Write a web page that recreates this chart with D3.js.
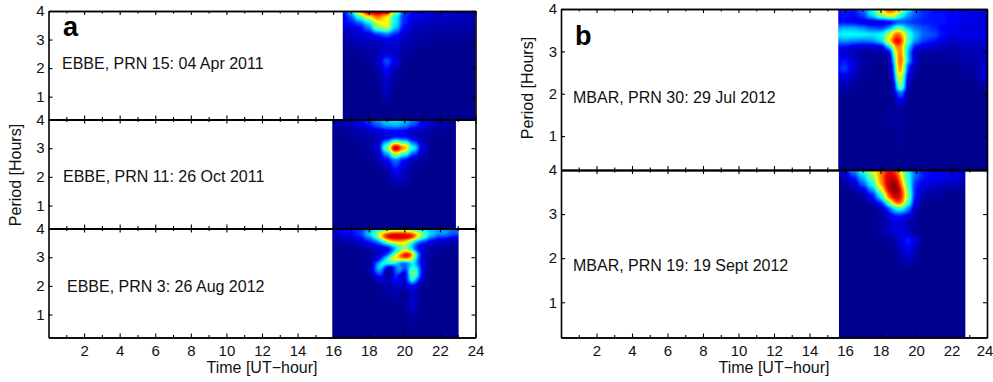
<!DOCTYPE html>
<html>
<head>
<meta charset="utf-8">
<script src="https://cdn.jsdelivr.net/npm/d3@7"></script>
<style>
	html, body { margin: 0; padding: 0; background: #fff; overflow: hidden; }
	text { font-family: "Liberation Sans", Arial, sans-serif; fill: #111; }
	.axis path, .axis line { stroke: #000; }
	.axis path { stroke-width: 1.6; }
	.axis line { stroke-width: 1.1; }
	.axis text { font-size: 15px; font-family: "Liberation Sans", Arial, sans-serif; fill: #111; }
</style>
</head>
<body>
<svg id="chart" width="993" height="382"></svg>
<script>
//---->TICKS<-----//
const hourMajor = [2, 4, 6, 8, 10, 12, 14, 16, 18, 20, 22, 24],
	hourMinor = [1, 3, 5, 7, 9, 11, 13, 15, 17, 19, 21, 23],
	periodTicks = [1, 2, 3, 4];

//---->PANEL a, EBBE PRN 15<-----//
const spanA1 = [16.54, 24];
const hoursA1 = [16.5, 17, 17.5, 18, 18.5, 19, 19.5, 20, 20.5, 21, 22, 23, 24];
const periodsA1 = [4, 3.8, 3.6, 3.4, 3.2, 3, 2.75, 2.5, 2.25, 2, 1.75, 1.5, 1.25, 1, 0.6, 0.2];
const powerA1 = [
	[14, 34, 78, 100, 100, 100, 58, 20, 14, 12, 8, 5, 4],
	[8, 20, 42, 62, 76, 62, 36, 16, 10, 8, 6, 5, 4],
	[14, 14, 22, 36, 60, 64, 38, 16, 8, 6, 5, 4, 3],
	[6, 8, 12, 24, 50, 58, 32, 12, 6, 4, 3, 3, 2],
	[4, 6, 8, 10, 18, 24, 16, 7, 4, 3, 2, 2, 1],
	[2, 4, 6, 6, 6, 10, 8, 5, 3, 2, 1, 1, 1],
	[1, 2, 3, 4, 5, 6, 8, 3, 2, 1, 0, 0, 0],
	[0, 1, 1, 2, 4, 8, 6, 2, 1, 0, 0, 0, 0],
	[0, 0, 0, 1, 5, 20, 10, 1, 0, 0, 0, 0, 0],
	[0, 0, 0, 0, 3, 14, 5, 0, 0, 0, 0, 0, 0],
	[0, 0, 0, 0, 1, 9, 2, 0, 0, 0, 0, 0, 0],
	[0, 0, 0, 0, 1, 7, 1, 0, 0, 0, 0, 0, 0],
	[0, 0, 0, 0, 0, 6, 0, 0, 0, 0, 0, 0, 0],
	[0, 0, 0, 0, 0, 4, 0, 0, 0, 0, 0, 0, 0],
	[0, 0, 0, 0, 0, 0, 0, 0, 0, 0, 0, 0, 0],
	[0, 0, 0, 0, 0, 0, 0, 0, 0, 0, 0, 0, 0]
];

//---->PANEL a, EBBE PRN 11<-----//
const spanA2 = [15.95, 22.9];
const hoursA2 = [16, 16.5, 17, 17.5, 18, 18.5, 19, 19.5, 20, 20.5, 21, 21.5, 22, 23];
const periodsA2 = [4, 3.8, 3.6, 3.4, 3.2, 3, 2.8, 2.6, 2.4, 2.2, 2, 1.8, 1.5, 1, 0.2];
const powerA2 = [
	[4, 5, 8, 12, 20, 28, 34, 36, 34, 24, 14, 8, 5, 2],
	[2, 3, 5, 8, 14, 22, 30, 32, 28, 20, 12, 6, 3, 1],
	[1, 1, 2, 4, 6, 8, 10, 12, 10, 6, 4, 2, 1, 0],
	[0, 0, 1, 2, 3, 4, 8, 12, 10, 6, 3, 1, 0, 0],
	[0, 0, 0, 1, 2, 6, 30, 56, 46, 22, 6, 1, 0, 0],
	[0, 0, 0, 0, 2, 8, 50, 100, 76, 40, 10, 1, 0, 0],
	[0, 0, 0, 0, 1, 5, 26, 58, 42, 20, 4, 0, 0, 0],
	[0, 0, 0, 0, 0, 3, 12, 24, 12, 3, 1, 0, 0, 0],
	[0, 0, 0, 0, 0, 1, 5, 18, 8, 2, 0, 0, 0, 0],
	[0, 0, 0, 0, 0, 0, 2, 12, 5, 1, 0, 0, 0, 0],
	[0, 0, 0, 0, 0, 0, 2, 7, 6, 0, 0, 0, 0, 0],
	[0, 0, 0, 0, 0, 0, 0, 3, 3, 0, 0, 0, 0, 0],
	[0, 0, 0, 0, 0, 0, 0, 0, 0, 0, 0, 0, 0, 0],
	[0, 0, 0, 0, 0, 0, 0, 0, 0, 0, 0, 0, 0, 0],
	[0, 0, 0, 0, 0, 0, 0, 0, 0, 0, 0, 0, 0, 0]
];

//---->PANEL a, EBBE PRN 3<-----//
const spanA3 = [15.95, 23.05];
const hoursA3 = [16, 17, 17.5, 18, 18.25, 18.5, 18.75, 19, 19.25, 19.5, 19.75, 20, 20.25, 20.5, 20.75, 21, 21.5, 22, 23];
const periodsA3 = [4, 3.85, 3.7, 3.55, 3.4, 3.25, 3.1, 2.95, 2.8, 2.65, 2.5, 2.35, 2.2, 2, 1.75, 1.5, 1.25, 1, 0.2];
const powerA3 = [
	[12, 14, 16, 22, 26, 30, 32, 35, 38, 40, 40, 40, 38, 36, 34, 32, 28, 26, 22],
	[8, 12, 18, 34, 44, 56, 66, 74, 82, 86, 86, 84, 80, 74, 62, 50, 36, 30, 24],
	[4, 8, 14, 26, 36, 52, 76, 96, 100, 100, 100, 100, 100, 96, 72, 50, 28, 18, 12],
	[1, 3, 6, 14, 18, 24, 36, 52, 66, 70, 70, 66, 54, 40, 26, 18, 10, 6, 3],
	[0, 1, 3, 6, 8, 10, 12, 16, 22, 34, 48, 52, 42, 26, 14, 8, 4, 2, 1],
	[0, 0, 1, 2, 4, 6, 7, 8, 14, 30, 46, 50, 46, 30, 12, 5, 2, 1, 0],
	[0, 0, 0, 1, 2, 4, 8, 14, 28, 50, 74, 95, 100, 78, 34, 8, 2, 0, 0],
	[0, 0, 0, 1, 2, 8, 18, 36, 58, 70, 74, 80, 76, 56, 26, 6, 1, 0, 0],
	[0, 0, 0, 1, 6, 26, 42, 48, 50, 36, 14, 8, 22, 36, 24, 6, 1, 0, 0],
	[0, 0, 0, 1, 10, 34, 40, 10, 0, 22, 36, 26, 30, 46, 32, 8, 1, 0, 0],
	[0, 0, 0, 1, 8, 28, 24, 0, 0, 22, 30, 4, 36, 56, 38, 8, 0, 0, 0],
	[0, 0, 0, 0, 3, 12, 18, 0, 0, 20, 4, 0, 32, 60, 36, 6, 0, 0, 0],
	[0, 0, 0, 0, 1, 3, 5, 6, 8, 12, 14, 4, 30, 44, 20, 3, 0, 0, 0],
	[0, 0, 0, 0, 0, 1, 2, 2, 4, 6, 6, 6, 8, 14, 6, 1, 0, 0, 0],
	[0, 0, 0, 0, 0, 0, 1, 4, 2, 4, 2, 1, 3, 8, 2, 0, 0, 0, 0],
	[0, 0, 0, 0, 0, 0, 0, 0, 0, 3, 2, 0, 4, 10, 3, 0, 0, 0, 0],
	[0, 0, 0, 0, 0, 0, 0, 0, 0, 0, 0, 0, 5, 8, 2, 0, 0, 0, 0],
	[0, 0, 0, 0, 0, 0, 0, 0, 0, 0, 0, 0, 1, 3, 0, 0, 0, 0, 0],
	[0, 0, 0, 0, 0, 0, 0, 0, 0, 0, 0, 0, 0, 0, 0, 0, 0, 0, 0]
];

//---->PANEL b, MBAR PRN 30<-----//
const spanB1 = [15.62, 24];
const hoursB1 = [15.5, 16, 16.5, 17, 17.5, 18, 18.5, 18.75, 19, 19.25, 19.5, 20, 20.5, 21, 21.5, 22, 23, 24];
const periodsB1 = [4, 3.85, 3.7, 3.55, 3.4, 3.25, 3.1, 2.95, 2.8, 2.6, 2.4, 2.2, 2, 1.8, 1.6, 1.3, 1, 0.2];
const powerB1 = [
	[14, 16, 16, 24, 38, 66, 86, 84, 70, 54, 38, 20, 16, 14, 12, 10, 8, 8],
	[12, 14, 12, 18, 34, 50, 62, 60, 50, 38, 28, 20, 16, 14, 14, 12, 10, 8],
	[12, 12, 10, 8, 6, 6, 8, 12, 16, 18, 18, 16, 14, 14, 14, 12, 10, 8],
	[28, 30, 30, 26, 20, 18, 26, 40, 50, 42, 30, 24, 20, 16, 12, 10, 8, 8],
	[36, 38, 38, 38, 36, 38, 56, 74, 82, 70, 44, 30, 22, 20, 14, 10, 10, 10],
	[26, 28, 26, 24, 26, 34, 66, 88, 94, 80, 44, 26, 18, 14, 8, 6, 8, 8],
	[12, 12, 8, 6, 6, 8, 30, 64, 80, 68, 34, 12, 8, 6, 5, 4, 6, 6],
	[10, 6, 4, 2, 1, 2, 4, 50, 74, 74, 28, 4, 2, 2, 2, 2, 4, 5],
	[12, 14, 8, 3, 1, 0, 2, 34, 78, 78, 30, 6, 1, 1, 1, 1, 3, 5],
	[14, 18, 8, 2, 0, 0, 1, 22, 76, 70, 16, 2, 0, 0, 0, 0, 2, 7],
	[6, 10, 4, 1, 0, 0, 0, 12, 66, 56, 8, 1, 0, 0, 0, 0, 1, 7],
	[3, 4, 2, 0, 0, 0, 0, 4, 50, 50, 4, 0, 0, 0, 0, 0, 0, 2],
	[1, 1, 0, 0, 0, 0, 0, 2, 22, 22, 1, 0, 0, 0, 0, 0, 0, 0],
	[0, 0, 0, 0, 0, 0, 0, 0, 8, 8, 0, 0, 0, 0, 0, 0, 0, 0],
	[0, 0, 0, 0, 0, 0, 2, 0, 4, 2, 0, 0, 0, 0, 0, 0, 0, 0],
	[0, 0, 0, 0, 0, 0, 2, 0, 3, 0, 0, 0, 0, 0, 0, 0, 0, 0],
	[0, 0, 0, 0, 0, 0, 0, 0, 2, 0, 0, 0, 0, 0, 0, 0, 0, 0],
	[0, 0, 0, 0, 0, 0, 0, 0, 0, 0, 0, 0, 0, 0, 0, 0, 0, 0]
];

//---->PANEL b, MBAR PRN 19<-----//
const spanB2 = [15.66, 22.78];
const hoursB2 = [15.5, 16, 16.5, 17, 17.5, 18, 18.25, 18.5, 18.75, 19, 19.25, 19.5, 20, 20.5, 21, 22, 23];
const periodsB2 = [4, 3.85, 3.7, 3.55, 3.4, 3.25, 3.1, 2.95, 2.8, 2.6, 2.4, 2.2, 2, 1.7, 1.3, 0.2];
const powerB2 = [
	[6, 14, 30, 44, 58, 72, 82, 86, 82, 70, 50, 36, 20, 14, 12, 10, 8],
	[2, 6, 16, 32, 50, 72, 86, 92, 92, 82, 60, 40, 22, 14, 12, 10, 6],
	[0, 2, 6, 22, 40, 68, 86, 96, 100, 94, 68, 42, 16, 10, 8, 5, 3],
	[0, 0, 2, 8, 26, 52, 76, 94, 100, 100, 80, 46, 14, 6, 4, 2, 1],
	[0, 0, 0, 2, 12, 34, 58, 80, 92, 94, 84, 50, 12, 3, 2, 0, 0],
	[0, 0, 0, 0, 3, 14, 30, 50, 70, 82, 74, 42, 8, 1, 0, 0, 0],
	[0, 0, 0, 0, 0, 3, 8, 20, 32, 38, 36, 24, 4, 0, 0, 0, 0],
	[0, 0, 0, 0, 0, 2, 4, 8, 12, 14, 12, 8, 2, 0, 0, 0, 0],
	[0, 0, 0, 0, 0, 1, 3, 6, 10, 10, 6, 4, 1, 0, 0, 0, 0],
	[0, 0, 0, 0, 0, 2, 4, 6, 8, 10, 10, 6, 1, 0, 0, 0, 0],
	[0, 0, 0, 0, 0, 0, 1, 2, 3, 6, 10, 16, 8, 0, 0, 0, 0],
	[0, 0, 0, 0, 0, 0, 0, 0, 1, 3, 8, 12, 4, 0, 0, 0, 0],
	[0, 0, 0, 0, 0, 0, 0, 0, 0, 1, 3, 5, 2, 0, 0, 0, 0],
	[0, 0, 0, 0, 0, 0, 0, 0, 0, 0, 0, 0, 0, 0, 0, 0, 0],
	[0, 0, 0, 0, 0, 0, 0, 0, 0, 0, 0, 0, 0, 0, 0, 0, 0],
	[0, 0, 0, 0, 0, 0, 0, 0, 0, 0, 0, 0, 0, 0, 0, 0, 0]
];

//---->LAYOUT<-----//
const columnA = [48.5, 475.5],
	columnB = [561, 987];

const panels = [
	{ name: 'a1', col: columnA, top: 11, bottom: 119.5, span: spanA1, hours: hoursA1, periods: periodsA1, power: powerA1, title: 'EBBE, PRN 15: 04 Apr 2011', tx: 62, ty: 69, letter: 'a', lx: 63, ly: 36 },
	{ name: 'a2', col: columnA, top: 119.5, bottom: 228.5, span: spanA2, hours: hoursA2, periods: periodsA2, power: powerA2, title: 'EBBE, PRN 11: 26 Oct 2011', tx: 63, ty: 182 },
	{ name: 'a3', col: columnA, top: 228.5, bottom: 337.5, span: spanA3, hours: hoursA3, periods: periodsA3, power: powerA3, title: 'EBBE, PRN 3: 26 Aug 2012', tx: 67, ty: 292, xLabels: true },
	{ name: 'b1', col: columnB, top: 9, bottom: 170, span: spanB1, hours: hoursB1, periods: periodsB1, power: powerB1, title: 'MBAR, PRN 30: 29 Jul 2012', tx: 573, ty: 103, letter: 'b', lx: 575, ly: 45 },
	{ name: 'b2', col: columnB, top: 170, bottom: 337.5, span: spanB2, hours: hoursB2, periods: periodsB2, power: powerB2, title: 'MBAR, PRN 19: 19 Sept 2012', tx: 573, ty: 271, xLabels: true }
];

const svg = d3.select('#chart');

// Grey level carries the value, the filter smooths it and maps it on to jet
const grey = d3.scaleLinear().domain([0, 100]).range(['#000000', '#ffffff']);

const filter = svg.append('defs').append('filter')
	.attr('id', 'jet')
	.attr('filterUnits', 'userSpaceOnUse')
	.attr('x', -40).attr('y', -40)
	.attr('width', 1100).attr('height', 480)
	.attr('color-interpolation-filters', 'sRGB');

filter.append('feGaussianBlur').attr('stdDeviation', 2);

const transfer = filter.append('feComponentTransfer');
transfer.append('feFuncR').attr('type', 'table').attr('tableValues', '0 0 0 0 .5 1 1 1 .5');
transfer.append('feFuncG').attr('type', 'table').attr('tableValues', '0 0 .5 1 1 1 .5 0 0');
transfer.append('feFuncB').attr('type', 'table').attr('tableValues', '.5625 1 1 1 .5 0 0 0 0');

function cellEdges(values, scale, overshoot) {
	return values.map((v, i) => {
		const a = i === 0 ? scale(v) - overshoot : scale((values[i - 1] + v) / 2);
		const b = i === values.length - 1 ? scale(v) + overshoot : scale((v + values[i + 1]) / 2);
		return [Math.min(a, b), Math.max(a, b)];
	});
}

function drawPanel(p) {
	const x = d3.scaleLinear().domain([0, 24]).range(p.col);
	const y = d3.scaleLinear().domain([0.2, 4]).range([p.bottom, p.top]);

	const g = svg.append('g').attr('class', 'panel ' + p.name);

	g.append('clipPath').attr('id', 'clip-' + p.name)
		.append('rect')
		.attr('x', x(p.span[0]))
		.attr('y', p.top)
		.attr('width', x(p.span[1]) - x(p.span[0]))
		.attr('height', p.bottom - p.top);

	const xEdges = cellEdges(p.hours, x, 24);
	const yEdges = cellEdges(p.periods, y, 24);

	const cells = p.power.flatMap((row, r) => row.map((v, c) => ({ r, c, v })));

	g.append('g').attr('clip-path', `url(#clip-${p.name})`)
		.append('g').attr('filter', 'url(#jet)')
		.selectAll('rect')
		.data(cells)
		.enter().append('rect')
		.attr('x', d => xEdges[d.c][0])
		.attr('y', d => yEdges[d.r][0])
		.attr('width', d => xEdges[d.c][1] - xEdges[d.c][0])
		.attr('height', d => yEdges[d.r][1] - yEdges[d.r][0])
		.attr('shape-rendering', 'crispEdges')
		.attr('fill', d => grey(d.v));

	// Box: ticks point inward on all four sides
	const bottomAxis = d3.axisBottom(x).tickValues(hourMajor).tickSize(-4).tickSizeOuter(0).tickPadding(8).tickFormat(d3.format('d'));
	if (!p.xLabels) bottomAxis.tickFormat('');

	const xAxis = g.append('g').attr('class', 'x axis')
		.attr('transform', `translate(0, ${p.bottom})`)
		.call(bottomAxis);
	// last label on the right column sits against the page edge
	if (p.col === columnB) xAxis.selectAll('text').filter(d => d === 24).attr('dx', -2.5);

	g.append('g').attr('class', 'x axis minor')
		.attr('transform', `translate(0, ${p.bottom})`)
		.call(d3.axisBottom(x).tickValues(hourMinor).tickSize(-2.5).tickSizeOuter(0).tickFormat(''));
	g.append('g').attr('class', 'x axis')
		.attr('transform', `translate(0, ${p.top})`)
		.call(d3.axisTop(x).tickValues(hourMajor).tickSize(-4).tickSizeOuter(0).tickFormat(''));
	g.append('g').attr('class', 'x axis minor')
		.attr('transform', `translate(0, ${p.top})`)
		.call(d3.axisTop(x).tickValues(hourMinor).tickSize(-2.5).tickSizeOuter(0).tickFormat(''));

	g.append('g').attr('class', 'y axis')
		.attr('transform', `translate(${p.col[0]}, 0)`)
		.call(d3.axisLeft(y).tickValues(periodTicks).tickSize(-4).tickSizeOuter(0).tickPadding(4).tickFormat(d3.format('d')));
	g.append('g').attr('class', 'y axis')
		.attr('transform', `translate(${p.col[1]}, 0)`)
		.call(d3.axisRight(y).tickValues(periodTicks).tickSize(-4).tickSizeOuter(0).tickFormat(''));

	g.append('text')
		.attr('x', p.tx).attr('y', p.ty)
		.style('font-size', '16px')
		.text(p.title);

	if (p.letter) {
		g.append('text')
			.attr('x', p.lx).attr('y', p.ly)
			.style('font-size', '27px')
			.style('font-weight', 'bold')
			.style('fill', '#000')
			.text(p.letter);
	}
}

panels.forEach(drawPanel);

// Axis titles
svg.selectAll('.xtitle')
	.data([262, 774])
	.enter().append('text')
	.attr('class', 'xtitle')
	.attr('x', d => d).attr('y', 373)
	.attr('text-anchor', 'middle')
	.style('font-size', '16px')
	.text('Time [UT\u2212hour]');

svg.selectAll('.ytitle')
	.data([[21, 175], [533, 88]])
	.enter().append('text')
	.attr('class', 'ytitle')
	.attr('transform', d => `translate(${d[0]}, ${d[1]}) rotate(-90)`)
	.attr('text-anchor', 'middle')
	.style('font-size', '16px')
	.text('Period [Hours]');
</script>
</body>
</html>
